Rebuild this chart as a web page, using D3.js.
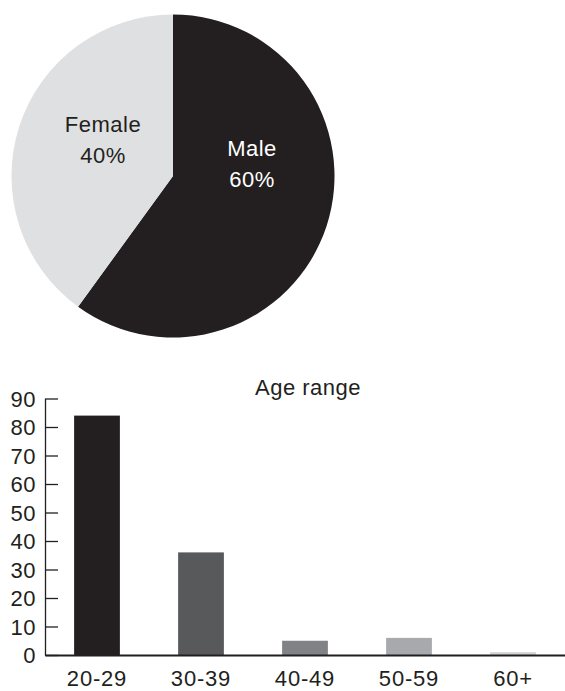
<!DOCTYPE html>
<html>
<head>
<meta charset="utf-8">
<script src="https://cdn.jsdelivr.net/npm/d3@7"></script>
<style>
  body { margin: 0; background: #fff; }
  text { font-family: "Liberation Sans", Arial, Helvetica, sans-serif; fill: #231f20; }
</style>
</head>
<body>
<script>
// gender split (pie)
var genderNames = ["Male", "Female"];
var genderShare = [60, 40];

// age range (bars)
var ageRanges = ["20-29", "30-39", "40-49", "50-59", "60+"];
var ageCounts = [84, 36, 5, 6, 1];
var yTicks = [0, 10, 20, 30, 40, 50, 60, 70, 80, 90];

var width = 565, height = 691;
var ink = "#231f20";

var svg = d3.select("body").append("svg")
    .attr("width", width)
    .attr("height", height);

// ---- pie ----
var cx = 173, cy = 176, radius = 161.5;
var pieColors = d3.scaleOrdinal().domain(genderNames).range([ink, "#dfe0e1"]);

var pie = d3.pie().sort(null).value(function(d) { return d.value; });
var arc = d3.arc().innerRadius(0).outerRadius(radius);

var pieData = pie(genderNames.map(function(n, i) { return {name: n, value: genderShare[i]}; }));

var pieG = svg.append("g").attr("transform", "translate(" + cx + "," + cy + ")");

pieG.selectAll("path")
    .data(pieData)
    .enter()
    .append("path")
    .attr("d", arc)
    .attr("fill", function(d) { return pieColors(d.data.name); });

// label spots inside each slice (offsets from pie centre)
var labelSpot = {Male: [79, -20], Female: [-70, -44]};

var labels = pieG.selectAll("g.lbl")
    .data(pieData)
    .enter()
    .append("g")
    .attr("class", "lbl")
    .attr("transform", function(d) {
      var p = labelSpot[d.data.name];
      return "translate(" + p[0] + "," + p[1] + ")";
    });

labels.append("text")
    .attr("text-anchor", "middle")
    .style("font-size", "22px")
    .style("letter-spacing", "0.5px")
    .style("fill", function(d) { return d.data.name == "Male" ? "#fff" : ink; })
    .text(function(d) { return d.data.name; });

labels.append("text")
    .attr("text-anchor", "middle")
    .attr("y", 31)
    .style("font-size", "22px")
    .style("letter-spacing", "0.5px")
    .style("fill", function(d) { return d.data.name == "Male" ? "#fff" : ink; })
    .text(function(d) { return d.data.value + "%"; });

// ---- bar chart ----
var x0 = 45, x1 = 565, yBase = 655, yTop = 398.5;

var x = d3.scaleBand()
    .domain(ageRanges)
    .range([x0, x1])
    .paddingInner(0.56)
    .paddingOuter(0.28);

var y = d3.scaleLinear()
    .domain([0, 90])
    .range([yBase, yTop]);

var barColors = d3.scaleOrdinal()
    .domain(ageRanges)
    .range([ink, "#58595b", "#808285", "#a7a9ac", "#d1d3d4"]);

svg.selectAll("rect.bar")
    .data(ageRanges)
    .enter()
    .append("rect")
    .attr("class", "bar")
    .attr("x", function(d) { return x(d); })
    .attr("width", x.bandwidth())
    .attr("y", function(d, i) { return y(ageCounts[i]); })
    .attr("height", function(d, i) { return yBase - y(ageCounts[i]); })
    .attr("fill", function(d) { return barColors(d); });

// y axis - ticks point inward
var yAxis = svg.append("g")
    .attr("transform", "translate(" + x0 + ",0)")
    .call(d3.axisRight(y).tickValues(yTicks).tickSize(13).tickSizeOuter(0).tickFormat(d3.format("d")));

yAxis.select(".domain").attr("stroke", ink).attr("stroke-width", 1.3);
yAxis.selectAll(".tick line").attr("stroke", ink).attr("stroke-width", 1.3);
yAxis.selectAll(".tick text")
    .attr("x", -9)
    .attr("dy", "0.36em")
    .attr("text-anchor", "end")
    .style("font-size", "22px")
    .style("letter-spacing", "0.5px")
    .style("font-family", null)
    .attr("fill", ink);

// x axis baseline and labels
var xAxis = svg.append("g")
    .attr("transform", "translate(0," + yBase + ")")
    .call(d3.axisBottom(x).tickSize(0).tickPadding(0));

xAxis.select(".domain").attr("stroke", ink).attr("stroke-width", 2);
xAxis.selectAll(".tick text")
    .attr("y", 31)
    .attr("dy", null)
    .style("font-size", "22px")
    .style("letter-spacing", "0.8px")
    .style("font-family", null)
    .attr("fill", ink);

svg.append("text")
    .attr("x", 308)
    .attr("y", 395)
    .attr("text-anchor", "middle")
    .style("font-size", "22px")
    .style("letter-spacing", "0.5px")
    .text("Age range");
</script>
</body>
</html>
